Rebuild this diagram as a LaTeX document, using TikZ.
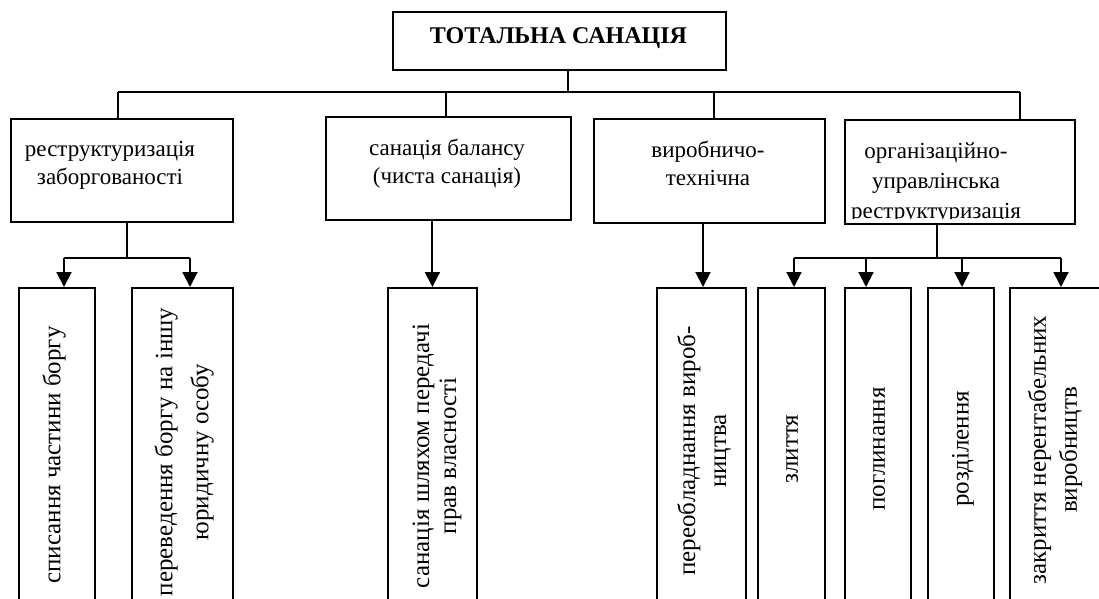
\documentclass[tikz,border=0pt]{standalone}
\usepackage{fontspec}
\setmainfont{Liberation Serif}
\usetikzlibrary{arrows.meta,calc}
\begin{document}
\begin{tikzpicture}[x=1pt,y=-1pt,
  box/.style={draw,line width=1.8pt,rectangle,anchor=north west,inner sep=0pt},
  txt/.style={font=\fontsize{23}{#1}\selectfont,align=center,inner sep=0pt},
  txt/.default=28,
  vtxt/.style={font=\fontsize{25}{#1}\selectfont,align=center,inner sep=0pt,rotate=90},
  vtxt/.default=30,
  bus/.style={line width=1.3pt},
  sbus/.style={line width=2pt},
  arr/.style={line width=2pt,-{Triangle[width=15pt,length=15pt]}},
]
\useasboundingbox (0,0) rectangle (1099,598);
\clip (0,0) rectangle (1099,598);
% top
\node[box,minimum width=333pt,minimum height=58pt] (top) at (392,11) {};
\node[font=\fontsize{24}{26}\bfseries\selectfont,inner sep=0pt,anchor=base] (toptxt) at (558.5,43) {ТОТАЛЬНА САНАЦІЯ};
% upper boxes
\node[box,minimum width=222pt,minimum height=103pt] (u1) at (10,118) {};
\node[box,minimum width=245pt,minimum height=103pt] (u2) at (325,116) {};
\node[box,minimum width=231pt,minimum height=104pt] (u3) at (593,118) {};
\node[box,minimum width=230pt,minimum height=104pt] (u4) at (844,119) {};
\node[txt,anchor=north] (t1) at (110,141) {реструктуризація\\заборгованості};
\node[txt,anchor=north] (t2) at (447,139) {санація балансу\\(чиста санація)};
\node[txt,anchor=north] (t3) at (708,141) {виробничо-\\технічна};
\begin{scope}
\clip (846,121) rectangle (1072,218);
\node[txt=30,anchor=north] (t4) at (936,143) {організаційно-\\управлінська\\реструктуризація};
\end{scope}
% lower boxes
\node[box,minimum width=76pt,minimum height=400pt] (b1) at (18,287) {};
\node[box,minimum width=101pt,minimum height=400pt] (b2) at (131,287) {};
\node[box,minimum width=89pt,minimum height=400pt] (b3) at (387,287) {};
\node[box,minimum width=89pt,minimum height=400pt] (b4) at (656,287) {};
\node[box,minimum width=67pt,minimum height=400pt] (b5) at (757,287) {};
\node[box,minimum width=66pt,minimum height=400pt] (b6) at (844,287) {};
\node[box,minimum width=66pt,minimum height=400pt] (b7) at (927,287) {};
\node[box,minimum width=95pt,minimum height=400pt] (b8) at (1009,287) {};
\node[vtxt] (v1) at (54,455) {списання частини боргу};
\node[vtxt=36] (v2) at (184,452) {переведення боргу на іншу\\юридичну особу};
\node[vtxt=27] (v3) at (437,456) {санація шляхом передачі\\прав власності};
\node[vtxt=31] (v4) at (704,451) {переобладнання вироб-\\ництва};
\node[vtxt] (v5) at (792,449) {злиття};
\node[vtxt] (v6) at (879,449) {поглинання};
\node[vtxt] (v7) at (963,449) {розділення};
\node[vtxt=31] (v8) at (1055,450) {закриття нерентабельних\\виробництв};
% top bus
\coordinate (ts) at (568,92);
\coordinate (d1) at (118,92);
\coordinate (d2) at (446,92);
\coordinate (d3) at (714,92);
\coordinate (d4) at (1020,92);
\draw[bus] (top.south -| ts) -- (ts);
\draw[bus] (d1) -- (d4);
\draw[bus] (d1) -- (d1 |- u1.north);
\draw[bus] (d2) -- (d2 |- u2.north);
\draw[bus] (d3) -- (d3 |- u3.north);
\draw[bus] (d4) -- (d4 |- u4.north);
% branch 1
\coordinate (s1) at (127,258);
\coordinate (a1) at (64,258);
\coordinate (a2) at (190,258);
\draw[bus] (u1.south -| s1) -- (s1);
\draw[sbus] (a1) -- (a2);
\draw[arr] (a1) -- (a1 |- b1.north);
\draw[arr] (a2) -- (a2 |- b2.north);
% branch 2, 3
\coordinate (s3) at (703,287);
\draw[arr] (u2.south -| b3.north) -- (b3.north);
\draw[arr] (u3.south -| s3) -- (s3);
% branch 4
\coordinate (s4) at (937,258);
\coordinate (c1) at (794,258);
\coordinate (c2) at (866,258);
\coordinate (c3) at (962,258);
\coordinate (c4) at (1061,258);
\draw[bus] (u4.south -| s4) -- (s4);
\draw[sbus] (c1) -- (c4);
\draw[arr] (c1) -- (c1 |- b5.north);
\draw[arr] (c2) -- (c2 |- b6.north);
\draw[arr] (c3) -- (c3 |- b7.north);
\draw[arr] (c4) -- (c4 |- b8.north);
\end{tikzpicture}
\end{document}
